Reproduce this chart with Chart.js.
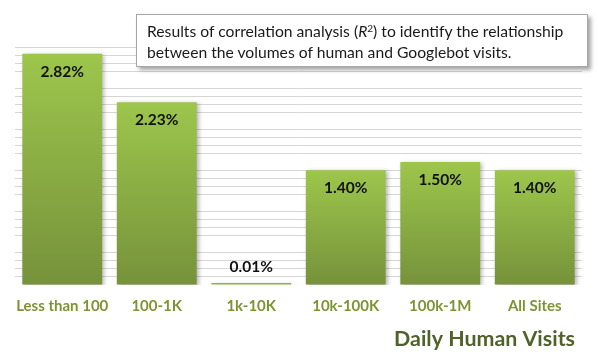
<!DOCTYPE html>
<html>
<head>
<meta charset="utf-8">
<script src="https://cdn.jsdelivr.net/npm/chart.js@4"></script>
<style>
  html, body { margin: 0; padding: 0; background: #fff; }
  #wrap { position: relative; width: 598px; height: 356px; }
  #note {
    position: absolute; left: 136px; top: 14px; width: 434px; height: 43px;
    padding: 6px 6px 2px 10px;
    border: 1px solid #a6a6a6; background: #fff;
    box-shadow: 3px 3px 4px rgba(0,0,0,0.35);
    font-family: Lato, "Open Sans", sans-serif; font-size: 15.7px; line-height: 21px; color: #1a1a1a;
    white-space: nowrap;
  }
  #note sup { font-size: 10px; line-height: 0; vertical-align: 5px; }
</style>
</head>
<body>
<div id="wrap">
  <canvas id="c" width="598" height="356"></canvas>
  <div id="note">Results of correlation analysis (<i>R</i><sup>2</sup>) to identify the relationship<br>between the volumes of human and Googlebot visits.</div>
</div>
<script>
const categories = ["Less than 100", "100-1K", "1k-10K", "10k-100K", "100k-1M", "All Sites"];
const r2Percent = [2.82, 2.23, 0.01, 1.40, 1.50, 1.40];
const axisTitle = "Daily Human Visits";
const yMin = 0, yMax = 3, yStep = 0.1;

const FONT = "Lato, 'Open Sans', sans-serif";

const barShadow = {
  id: 'barShadow',
  beforeDatasetsDraw(chart) {
    const ctx = chart.ctx;
    ctx.save();
    ctx.shadowColor = 'rgba(0,0,0,0.28)';
    ctx.shadowBlur = 4;
    ctx.shadowOffsetX = 2;
    ctx.shadowOffsetY = 1;
  },
  afterDatasetsDraw(chart) {
    chart.ctx.restore();
  }
};

const valueLabels = {
  id: 'valueLabels',
  afterDatasetsDraw(chart) {
    const ctx = chart.ctx;
    const meta = chart.getDatasetMeta(0);
    ctx.save();
    ctx.font = "bold 15.5px " + FONT;
    ctx.fillStyle = '#111';
    ctx.textAlign = 'center';
    ctx.textBaseline = 'middle';
    meta.data.forEach((bar, i) => {
      const h = bar.base - bar.y;
      const y = h > 30 ? bar.y + 18 : bar.y - 16;
      ctx.fillText(r2Percent[i].toFixed(2) + '%', bar.x, y);
    });
    ctx.restore();
  }
};

const xTitle = {
  id: 'xTitle',
  afterDraw(chart) {
    const ctx = chart.ctx;
    ctx.save();
    ctx.font = "bold 21.4px " + FONT;
    ctx.fillStyle = '#4f6228';
    ctx.textAlign = 'right';
    ctx.textBaseline = 'middle';
    ctx.fillText(axisTitle, 575, 339);
    ctx.restore();
  }
};

new Chart(document.getElementById('c'), {
  type: 'bar',
  data: {
    labels: categories,
    datasets: [{
      data: r2Percent,
      minBarLength: 2,
      categoryPercentage: 1,
      barPercentage: 0.845,
      borderWidth: 0,
      backgroundColor(context) {
        const chart = context.chart;
        const area = chart.chartArea;
        if (!area) return '#8db243';
        const ys = chart.scales.y;
        const top = ys.getPixelForValue(context.raw);
        const base = ys.getPixelForValue(0);
        if (base - top < 4) return '#8dba3e';
        const g = chart.ctx.createLinearGradient(0, top, 0, base);
        g.addColorStop(0, '#9dc64c');
        g.addColorStop(1, '#76923b');
        return g;
      }
    }]
  },
  options: {
    responsive: false,
    animation: false,
    events: [],
    layout: { padding: { left: 15, right: 16, top: 39, bottom: 0 } },
    plugins: { legend: { display: false }, tooltip: { enabled: false } },
    scales: {
      x: {
        grid: { display: false, drawTicks: false },
        border: { display: false },
        ticks: {
          padding: 12,
          color: '#7d9432',
          autoSkip: false,
          font: { family: FONT, size: 15, weight: 'bold' },
          maxRotation: 0
        },
        afterFit(scale) { scale.height = 71; }
      },
      y: {
        min: yMin, max: yMax,
        ticks: { display: false, stepSize: yStep },
        border: { display: false },
        grid: {
          drawTicks: false,
          lineWidth: 1,
          color(ctx) {
            const v = ctx.tick ? ctx.tick.value : 0;
            const r = Math.round(v * 10);
            return (r % 5 === 0) ? 'rgba(0,0,0,0)' : '#d6d6d6';
          }
        },
        afterFit(scale) { scale.width = 0; }
      }
    }
  },
  plugins: [barShadow, valueLabels, xTitle]
});
</script>
</body>
</html>
